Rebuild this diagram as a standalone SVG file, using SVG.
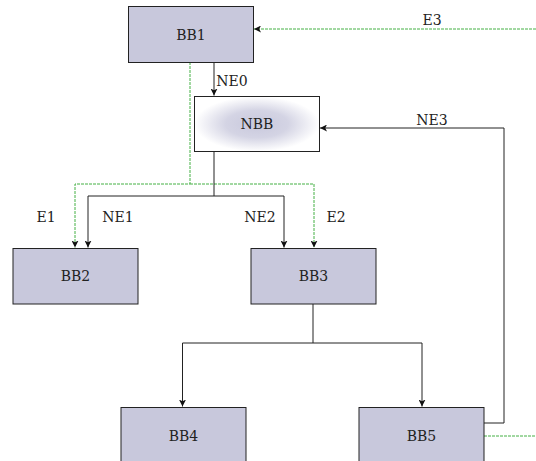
<svg xmlns="http://www.w3.org/2000/svg" width="536" height="461" viewBox="0 0 536 461">
<style>
.box{fill:#c8c8dc;stroke:#222;stroke-width:1}
.lbl{font-family:"DejaVu Serif",serif;font-size:14px;fill:#222;text-anchor:middle}
.e{fill:none;stroke:#222;stroke-width:1}
.g{fill:none;stroke:#44b044;stroke-width:1;stroke-dasharray:3,1}
</style>
<defs>
<radialGradient id="rg" cx="0.5" cy="0.5" r="0.5">
<stop offset="0" stop-color="#c8c8dc"/>
<stop offset="0.5" stop-color="#d4d4e4"/>
<stop offset="1" stop-color="#ffffff"/>
</radialGradient>
<marker id="a" viewBox="0 0 8 8" refX="8" refY="4" markerWidth="7" markerHeight="7" markerUnits="userSpaceOnUse" orient="auto">
<path d="M0,0 L8,4 L0,8 L2,4 Z" fill="#111"/>
</marker>
</defs>
<g id="connectors">
<path class="g" d="M536,29 H254" marker-end="url(#a)"/>
<path class="e" d="M214,62 V95.5" marker-end="url(#a)"/>
<path class="g" d="M190,62 V184 H75 V247.5" marker-end="url(#a)"/>
<path class="g" d="M190,184 H314 V247.5" marker-end="url(#a)"/>
<path class="e" d="M214,152 V196 H88 V247.5" marker-end="url(#a)"/>
<path class="e" d="M214,196 H284 V247.5" marker-end="url(#a)"/>
<path class="e" d="M313,304 V343 H182.5 V406.5" marker-end="url(#a)"/>
<path class="e" d="M313,343 H422 V406.5" marker-end="url(#a)"/>
<path class="e" d="M484,423 H504 V128 H320" marker-end="url(#a)"/>
<path class="g" d="M484,436 H536"/>
<text class="lbl" x="432" y="25">E3</text>
<text class="lbl" x="232" y="86">NE0</text>
<text class="lbl" x="432" y="125">NE3</text>
<text class="lbl" x="46" y="222">E1</text>
<text class="lbl" x="118" y="222">NE1</text>
<text class="lbl" x="260" y="222">NE2</text>
<text class="lbl" x="336" y="222">E2</text>
</g>
<g id="BB1"><rect class="box" x="128.5" y="6.5" width="125" height="56"/><text class="lbl" x="191" y="40">BB1</text></g>
<g id="NBB"><rect x="194.5" y="96.5" width="125" height="55" fill="url(#rg)" stroke="#222"/><text class="lbl" x="257" y="129">NBB</text></g>
<g id="BB2"><rect class="box" x="13" y="248.5" width="125" height="55.5"/><text class="lbl" x="75.5" y="281">BB2</text></g>
<g id="BB3"><rect class="box" x="251" y="248.5" width="125" height="55.5"/><text class="lbl" x="313.5" y="281">BB3</text></g>
<g id="BB4"><rect class="box" x="121" y="407.5" width="125" height="56"/><text class="lbl" x="183.5" y="441">BB4</text></g>
<g id="BB5"><rect class="box" x="359" y="407.5" width="125" height="56"/><text class="lbl" x="421.5" y="441">BB5</text></g>
</svg>
